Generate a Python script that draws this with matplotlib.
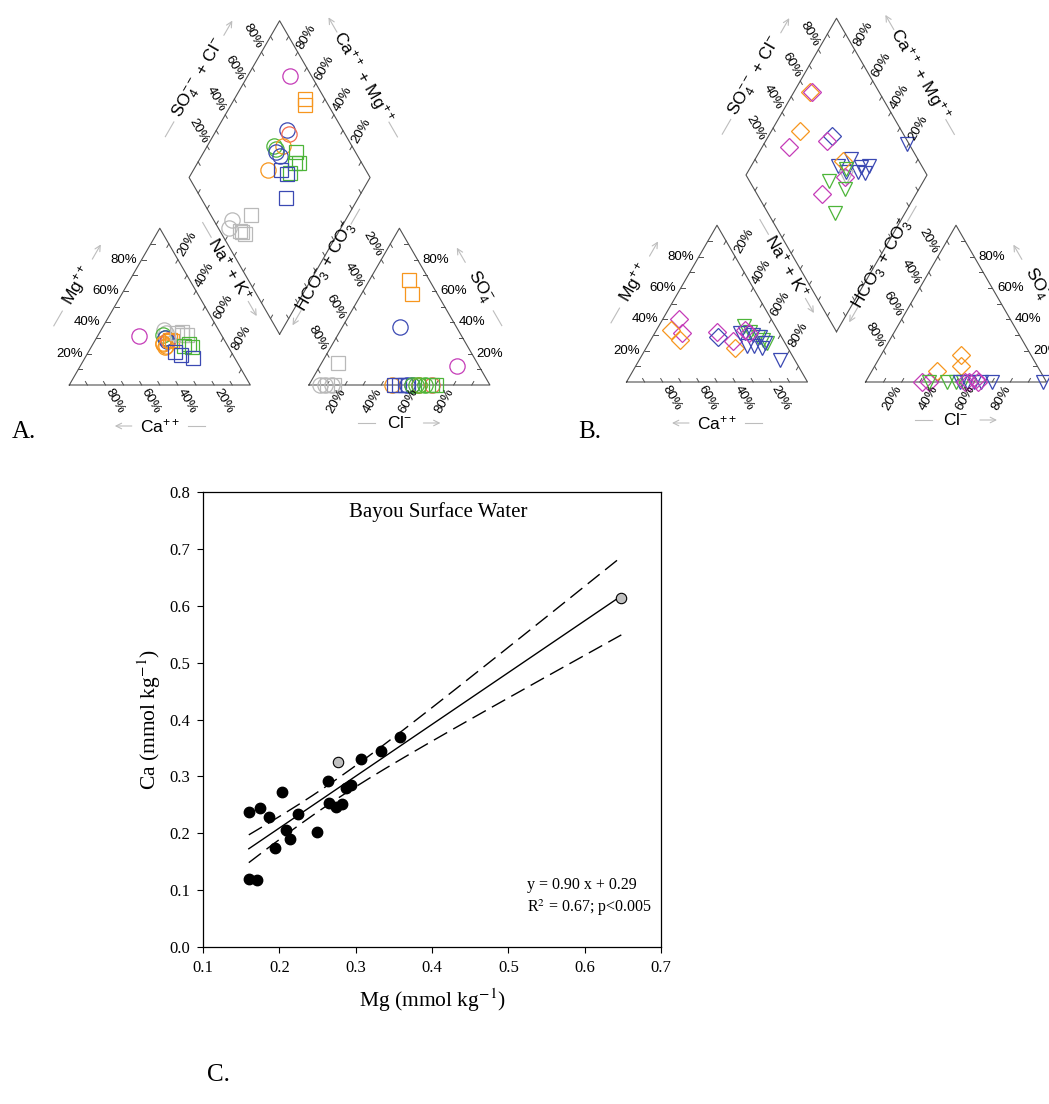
import numpy as np
import matplotlib
matplotlib.use("Agg")
import matplotlib.pyplot as plt

plt.rcParams['font.family'] = ['Liberation Sans', 'DejaVu Sans']
plt.rcParams['mathtext.fontset'] = 'custom'
plt.rcParams['mathtext.rm'] = 'Liberation Sans'
plt.rcParams['mathtext.it'] = 'Liberation Sans:italic'
plt.rcParams['mathtext.bf'] = 'Liberation Sans:bold'

# ---------- 1. Piper data (percent) ----------
# cation triangle rows: (colour, marker, Mg, Na+K)
a_cation = [
    ("gry", "o", 35, 35), ("gry", "o", 33, 37),
    ("grn", "o", 32, 36), ("grn", "o", 30, 38),
    ("blu", "o", 30, 38), ("blu", "o", 28, 40),
    ("org", "o", 26, 39), ("org", "o", 24, 41), ("org", "o", 25, 41), ("org", "o", 27, 38),
    ("red", "o", 29, 40),
    ("org", "s", 28, 43), ("org", "s", 29, 41),
    ("gry", "s", 33, 43), ("gry", "s", 32, 46), ("gry", "s", 32, 49), ("gry", "s", 34, 45),
    ("grn", "s", 25, 51), ("grn", "s", 24, 56), ("grn", "s", 26, 53),
    ("blu", "s", 21, 48), ("blu", "s", 19, 52), ("blu", "s", 17, 60),
    ("mag", "o", 31, 23),
]
# anion triangle rows: (colour, marker, SO4, Cl)
a_anion = [
    ("org", "s", 67, 22), ("org", "s", 58, 28),
    ("blu", "o", 37, 32), ("mag", "o", 12, 76),
    ("gry", "s", 14, 9), ("gry", "s", 0, 10), ("gry", "s", 0, 14),
    ("gry", "o", 0, 6), ("gry", "o", 0, 9), ("gry", "o", 0, 13),
    ("org", "o", 0, 46),
    ("blu", "s", 0, 47), ("blu", "s", 0, 50), ("blu", "s", 0, 53), ("blu", "s", 0, 55),
    ("blu", "o", 0, 54), ("blu", "o", 0, 57),
    ("grn", "o", 0, 57), ("grn", "o", 0, 59), ("org", "o", 0, 61), ("grn", "o", 0, 61), ("grn", "o", 0, 64),
    ("grn", "s", 0, 66), ("red", "o", 0, 68), ("grn", "s", 0, 68), ("grn", "s", 0, 70),
]
# diamond rows: (colour, marker, SO4+Cl, Ca+Mg)
a_diamond = [
    ("mag", "o", 88, 77),
    ("org", "s", 89, 61), ("org", "s", 87, 59),
    ("blu", "o", 69, 61), ("red", "o", 69, 59),
    ("grn", "o", 57, 63), ("grn", "o", 57, 61), ("org", "o", 62, 58),
    ("blu", "o", 56, 60), ("blu", "o", 57, 57),
    ("grn", "s", 67, 49), ("grn", "s", 63, 46), ("grn", "s", 65, 44), ("grn", "s", 57, 46),
    ("org", "o", 46, 59),
    ("blu", "s", 53, 52), ("blu", "s", 55, 47), ("blu", "s", 47, 40),
    ("gry", "s", 22, 54), ("gry", "s", 11, 55), ("gry", "s", 12, 53), ("gry", "s", 13, 51),
    ("gry", "o", 10, 63), ("gry", "o", 6, 62),
]

b_cation = [
    ("mag", "D", 40, 9), ("mag", "D", 31, 15), ("org", "D", 33, 8), ("org", "D", 27, 16),
    ("mag", "D", 32, 34), ("blu", "D", 29, 36), ("org", "D", 22, 49), ("mag", "D", 26, 46),
    ("grn", "v", 36, 47), ("grn", "v", 32, 52), ("grn", "v", 29, 58), ("grn", "v", 27, 62), ("grn", "v", 25, 65),
    ("blu", "v", 31, 47), ("blu", "v", 31, 50), ("blu", "v", 30, 55), ("blu", "v", 29, 59),
    ("blu", "v", 25, 64), ("blu", "v", 22, 64), ("blu", "v", 23, 55), ("blu", "v", 23, 59),
    ("mag", "D", 33, 49), ("mag", "D", 31, 52),
    ("blu", "v", 14, 78),
]
b_anion = [
    ("org", "D", 17, 44), ("org", "D", 10, 48), ("org", "D", 7, 36),
    ("mag", "D", 0, 31), ("mag", "D", 0, 35), ("grn", "v", 0, 35),
    ("grn", "v", 0, 45), ("grn", "v", 0, 50), ("grn", "v", 0, 54),
    ("blu", "v", 0, 52), ("blu", "v", 0, 56), ("blu", "v", 0, 60), ("blu", "v", 0, 64), ("blu", "v", 0, 70),
    ("mag", "D", 0, 55), ("mag", "D", 0, 57), ("mag", "D", 2, 60), ("mag", "D", 0, 62),
    ("blu", "v", 0, 98),
]
b_diamond = [
    ("org", "D", 62, 91), ("mag", "D", 63, 90),
    ("org", "D", 44, 84), ("mag", "D", 33, 85),
    ("blu", "D", 60, 65), ("mag", "D", 56, 66),
    ("blu", "v", 99, 21),
    ("blu", "v", 54, 52), ("blu", "v", 63, 47), ("blu", "v", 66, 39), ("blu", "v", 71, 35),
    ("blu", "v", 66, 35), ("blu", "v", 63, 39), ("blu", "v", 56, 46),
    ("gry", "v", 55, 44), ("org", "D", 58, 51), ("mag", "D", 54, 45),
    ("grn", "v", 44, 52), ("grn", "v", 50, 41), ("grn", "v", 37, 39), ("grn", "v", 57, 47),
    ("mag", "D", 36, 52),
]

# ---------- 2. Scatter data ----------
mg_black = [0.160, 0.160, 0.171, 0.175, 0.187, 0.194, 0.203, 0.209, 0.214, 0.224,
            0.249, 0.264, 0.265, 0.274, 0.282, 0.287, 0.294, 0.307, 0.333, 0.358]
ca_black = [0.238, 0.120, 0.117, 0.245, 0.228, 0.174, 0.272, 0.206, 0.190, 0.234,
            0.202, 0.292, 0.253, 0.247, 0.251, 0.280, 0.284, 0.331, 0.345, 0.369]
mg_gray = [0.277, 0.648]
ca_gray = [0.326, 0.614]
x_ticks = [0.1, 0.2, 0.3, 0.4, 0.5, 0.6, 0.7]
y_ticks = [0.0, 0.1, 0.2, 0.3, 0.4, 0.5, 0.6, 0.7, 0.8]

colors = {"mag": "#c53cb8", "org": "#f7961e", "blu": "#3b49b3", "grn": "#4db539",
          "gry": "#b9b9b9", "red": "#f2694f"}
msize = {"o": 11, "s": 10, "D": 9.5, "v": 10}

EDGE = "#505050"
ARROW = "#bdbdbd"
H = np.sqrt(3) / 2

fig = plt.figure(figsize=(10.49, 11.04), dpi=100)
canvas = fig.add_axes([0, 0, 1, 1])
canvas.set_xlim(0, 1049)
canvas.set_ylim(1104, 0)
canvas.axis("off")


def screen_angle(d):
    ang = np.degrees(np.arctan2(-d[1], d[0]))
    if ang > 90:
        ang -= 180
    if ang <= -90:
        ang += 180
    return ang


def draw_edge(ax, p0, p1, inward, ticklabels=True, label=None, off=40, shift=0, gap=30):
    p0, p1, inward = np.array(p0), np.array(p1), np.array(inward, float)
    for k in range(1, 10):
        p = p0 + k / 10 * (p1 - p0)
        q = p + 4 * inward
        ax.plot([p[0], q[0]], [p[1], q[1]], color=EDGE, lw=0.7)
        if ticklabels and k % 2 == 0:
            t = p - 18 * inward
            ax.text(t[0], t[1], f"{k * 10}%", rotation=screen_angle(-inward),
                    ha="center", va="center", fontsize=9.5, rotation_mode="anchor")
    if label is None:
        return
    u = (p1 - p0) / np.linalg.norm(p1 - p0)
    n = np.array([-u[1], u[0]])
    if np.dot(n, inward) > 0:
        n = -n
    c = (p0 + p1) / 2 + off * n + shift * u
    ax.text(c[0], c[1], label, rotation=screen_angle(u), ha="center", va="center",
            fontsize=12.5, rotation_mode="anchor")
    a0, a1 = c + gap * u, c + (gap + 17) * u
    ax.annotate("", xy=a1, xytext=a0,
                arrowprops=dict(arrowstyle="->", color=ARROW, lw=0.8, shrinkA=0, shrinkB=0))
    b0, b1 = c - gap * u, c - (gap + 17) * u
    ax.plot([b0[0], b1[0]], [b0[1], b1[1]], color=ARROW, lw=0.8)


def put(ax, x, y, col, mk):
    ax.plot(x, y, ls="none", marker=mk, ms=msize[mk], mfc="none",
            mec=colors[col], mew=0.9)


def piper(ax, x0, y0, s, g, cation, anion, diamond):
    # cation triangle
    bl, br, ap = (x0, y0), (x0 + s, y0), (x0 + s / 2, y0 - H * s)
    ax.plot([bl[0], br[0], ap[0], bl[0]], [bl[1], br[1], ap[1], bl[1]], color=EDGE, lw=0.8)
    draw_edge(ax, br, bl, (-0.5, -H), label="Ca$^{++}$", off=41, gap=28)
    draw_edge(ax, bl, ap, (1, 0), label="Mg$^{++}$", off=43, gap=30)
    draw_edge(ax, ap, br, (-0.5, H), label="Na$^{+}$ + K$^{+}$", off=40, shift=-20, gap=37)
    # anion triangle
    x2 = x0 + s + g
    bl2, br2, ap2 = (x2, y0), (x2 + s, y0), (x2 + s / 2, y0 - H * s)
    ax.plot([bl2[0], br2[0], ap2[0], bl2[0]], [bl2[1], br2[1], ap2[1], bl2[1]], color=EDGE, lw=0.8)
    draw_edge(ax, bl2, br2, (0.5, -H), label="Cl$^{-}$", off=38, gap=24)
    draw_edge(ax, ap2, bl2, (0.5, H), label="HCO$_3^{-}$ + CO$_3^{-}$", off=44, shift=-20, gap=50)
    draw_edge(ax, br2, ap2, (-1, 0), label="SO$_4^{-}$", off=40, gap=28)
    # diamond
    db = np.array([x0 + s + g / 2, y0 - H * g])
    vr, vl = np.array([s / 2, -H * s]), np.array([-s / 2, -H * s])
    dl, dr, dt = db + vl, db + vr, db + vl + vr
    ax.plot([db[0], dr[0], dt[0], dl[0], db[0]], [db[1], dr[1], dt[1], dl[1], db[1]], color=EDGE, lw=0.8)
    draw_edge(ax, dl, dt, (0.5, H), label="SO$_4^{--}$ + Cl$^{-}$", off=41, gap=50)
    draw_edge(ax, dr, dt, (-0.5, H), label="Ca$^{++}$ + Mg$^{++}$", off=44, gap=52)
    draw_edge(ax, db, dl, (0.5, -H), ticklabels=False)
    draw_edge(ax, db, dr, (-0.5, -H), ticklabels=False)
    # samples
    for col, mk, mgp, nak in cation:
        put(ax, x0 + s * nak / 100 + s / 2 * mgp / 100, y0 - H * s * mgp / 100, col, mk)
    for col, mk, so4, cl in anion:
        put(ax, x2 + s * cl / 100 + s / 2 * so4 / 100, y0 - H * s * so4 / 100, col, mk)
    for col, mk, aa, cc in diamond:
        p = db + aa / 100 * vr + cc / 100 * vl
        put(ax, p[0], p[1], col, mk)


piper(canvas, 69.3, 385, 181, 58.6, a_cation, a_anion, a_diamond)
piper(canvas, 626.5, 382, 181, 58, b_cation, b_anion, b_diamond)

serif = "Liberation Serif"
canvas.text(12, 432, "A.", fontsize=18, family=serif, va="center")
canvas.text(578, 432, "B.", fontsize=18, family=serif, va="center")
canvas.text(207, 1075, "C.", fontsize=18, family=serif, va="center")

# ---------- 3. Scatter C ----------
ax = fig.add_axes([203 / 1049, 1 - 947 / 1104, 458 / 1049, 455 / 1104])
mg_all = np.array(mg_black + mg_gray)
ca_all = np.array(ca_black + ca_gray)
slope, icpt = np.polyfit(mg_all, ca_all, 1)
xx = np.linspace(mg_all.min(), mg_all.max(), 200)
fit = slope * xx + icpt
n = len(mg_all)
resid = ca_all - (slope * mg_all + icpt)
sd = np.sqrt(np.sum(resid ** 2) / (n - 2))
t95 = 2.086  # two sided 95 %, df = 20
band = t95 * sd * np.sqrt(1 / n + (xx - mg_all.mean()) ** 2 / np.sum((mg_all - mg_all.mean()) ** 2))

ax.plot(xx, fit, color="black", lw=1)
ax.plot(xx, fit + band, color="black", lw=1, dashes=(11, 5))
ax.plot(xx, fit - band, color="black", lw=1, dashes=(11, 5))
ax.plot(mg_black, ca_black, "o", ms=7.5, mfc="black", mec="black", zorder=3)
ax.plot(mg_gray, ca_gray, "o", ms=7.5, mfc="#c0c0c0", mec="black", mew=0.8, zorder=3)

ax.set_xlim(0.1, 0.7)
ax.set_ylim(0, 0.8)
ax.set_xticks(x_ticks)
ax.set_yticks(y_ticks)
ax.set_xticklabels([f"{v:.1f}" for v in x_ticks], family=serif, fontsize=12)
ax.set_yticklabels([f"{v:.1f}" for v in y_ticks], family=serif, fontsize=12)
ax.tick_params(direction="out", length=4, width=0.8, top=False, right=False, pad=5)
for sp in ax.spines.values():
    sp.set_linewidth(0.9)

ax.text(0.513, 0.956, "Bayou Surface Water", transform=ax.transAxes, ha="center",
        va="center", family=serif, fontsize=15)
ax.text(0.707, 0.136, "y = 0.90 x + 0.29", transform=ax.transAxes, ha="left",
        va="center", family=serif, fontsize=11.5)
ax.text(0.707, 0.086, "R$^{2}$ = 0.67; p<0.005", transform=ax.transAxes, ha="left",
        va="center", family=serif, fontsize=11.5, math_fontfamily="stix")
ax.text(-0.118, 0.5, "Ca (mmol kg$^{-1}$)", transform=ax.transAxes, rotation=90,
        ha="center", va="center", family=serif, fontsize=15.5, math_fontfamily="stix")
ax.text(0.5, -0.116, "Mg (mmol kg$^{-1}$)", transform=ax.transAxes, ha="center",
        va="center", family=serif, fontsize=15.5, math_fontfamily="stix")

fig.savefig("out.png", dpi=100)
